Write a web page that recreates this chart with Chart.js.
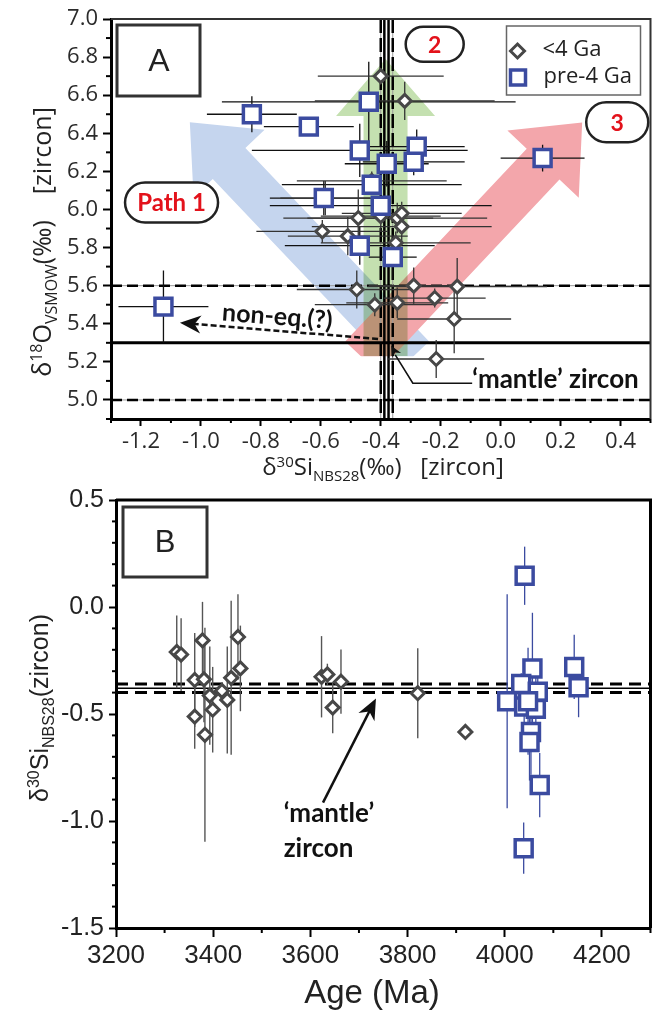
<!DOCTYPE html>
<html>
<head>
<meta charset="utf-8">
<script src="https://cdn.jsdelivr.net/npm/chart.js@4.4.1/dist/chart.umd.min.js"></script>
<style>
html, body { margin: 0; padding: 0; background: #fff; }
#wrap { position: relative; width: 666px; height: 1013px; overflow: hidden; }
canvas { position: absolute; left: 0; }
#chartA { top: 0; }
#chartB { top: 480px; }
</style>
</head>
<body>
<div id="wrap">
  <canvas id="chartA" width="666" height="490"></canvas>
  <canvas id="chartB" width="666" height="533"></canvas>
</div>
<script>
// ---- Panel A: d30Si vs d18O ----
// <4 Ga zircons (diamonds)
const youngSi    = [-0.40, -0.32, -0.43, -0.585, -0.475, -0.40, -0.345, -0.33, -0.33, -0.595, -0.51, -0.35, -0.48, -0.42, -0.345, -0.29, -0.22, -0.145, -0.155, -0.215];
const youngO     = [6.70, 6.57, 6.15, 6.06, 5.955, 5.965, 5.955, 5.98, 5.91, 5.885, 5.86, 5.825, 5.58, 5.50, 5.51, 5.60, 5.535, 5.595, 5.425, 5.215];
const youngSiErr = [0.21, 0.30, 0.25, 0.15, 0.25, 0.20, 0.30, 0.20, 0.30, 0.22, 0.20, 0.25, 0.20, 0.20, 0.17, 0.15, 0.17, 0.30, 0.19, 0.16];
const youngOErr  = [0.00, 0.10, 0.05, 0.09, 0.15, 0.08, 0.08, 0.06, 0.10, 0.06, 0.10, 0.06, 0.10, 0.06, 0.08, 0.095, 0.05, 0.15, 0.18, 0.10];

// pre-4 Ga zircons (squares)
const oldSi    = [-0.83, -0.64, -0.44, -0.47, -0.28, -0.29, -0.38, -0.43, -0.59, -0.40, -0.47, -0.36, 0.14, -1.125];
const oldO     = [6.50, 6.435, 6.565, 6.31, 6.33, 6.25, 6.24, 6.13, 6.06, 6.02, 5.81, 5.75, 6.27, 5.49];
const oldSiErr = [0.15, 0.15, 0.49, 0.36, 0.16, 0.17, 0.14, 0.30, 0.18, 0.37, 0.25, 0.08, 0.14, 0.15];
const oldOErr  = [0.095, 0.00, 0.21, 0.14, 0.09, 0.07, 0.12, 0.05, 0.09, 0.05, 0.10, 0.12, 0.07, 0.19];

// ---- Panel B: age vs d30Si ----
const youngAge    = [3325, 3334, 3378, 3362, 3381, 3362, 3383, 3393, 3399, 3418, 3429, 3437, 3451, 3456, 3623, 3635, 3663, 3646, 3821, 3919];
const youngSiB    = [-0.21, -0.222, -0.156, -0.341, -0.338, -0.512, -0.597, -0.414, -0.48, -0.392, -0.434, -0.331, -0.14, -0.287, -0.326, -0.315, -0.349, -0.47, -0.403, -0.584];
const youngSiBErr = [0.17, 0.17, 0.18, 0.22, 0.20, 0.15, 0.50, 0.23, 0.20, 0.02, 0.25, 0.36, 0.20, 0.20, 0.19, 0.05, 0.15, 0.12, 0.21, 0];

const oldAge    = [4041, 4057, 4143, 4152, 4034, 4005, 4068, 4040, 4064, 4054, 4051, 4072, 4039, 4048];
const oldSiB    = [0.146, -0.287, -0.28, -0.375, -0.36, -0.44, -0.396, -0.465, -0.476, -0.584, -0.631, -0.832, -1.127, -0.44];
const oldSiBErr = [0.136, 0.26, 0.15, 0.14, 0.05, 0.50, 0.12, 0.20, 0.20, 0.20, 0.18, 0.15, 0.12, 0.25];

// tick labels
const siTicksA = [-1.2, -1.0, -0.8, -0.6, -0.4, -0.2, 0.0, 0.2, 0.4];
const oTicksA  = [5.0, 5.2, 5.4, 5.6, 5.8, 6.0, 6.2, 6.4, 6.6, 6.8, 7.0];
const ageTicks = [3200, 3400, 3600, 3800, 4000, 4200];
const siTicksB = [-1.5, -1.0, -0.5, 0.0, 0.5];

// 'mantle' zircon reference values
const mantleSiSolid = [-0.388, -0.374];
const mantleSiDash  = [-0.40, -0.36];
const mantleO       = 5.3;
const mantleODash   = [5.0, 5.6];
const mantleSiB     = -0.38;
const mantleSiBDash = [-0.36, -0.40];

const blue = '#3b4ba0';
const grey = '#474747';

// helpers
function richText(ctx, parts, x, y, size, family, color, rot) {
  const small = Math.round(size * 0.62);
  let w = 0;
  const items = parts.map(([t, k]) => {
    ctx.font = (k ? small : size) + 'px ' + family;
    const tw = ctx.measureText(t).width;
    w += tw;
    return { t, k, tw };
  });
  ctx.save();
  ctx.translate(x, y);
  if (rot) ctx.rotate(rot);
  ctx.fillStyle = color;
  ctx.textBaseline = 'alphabetic';
  let cx = -w / 2;
  items.forEach(it => {
    ctx.font = (it.k ? small : size) + 'px ' + family;
    const dy = it.k === 'sup' ? -size * 0.36 : it.k === 'sub' ? size * 0.24 : 0;
    ctx.fillText(it.t, cx, dy + size * 0.35);
    cx += it.tw;
  });
  ctx.restore();
}

function bigArrow(ctx, x0, y0, x1, y1, shaft, headW, headL, color) {
  const len = Math.hypot(x1 - x0, y1 - y0);
  const ux = (x1 - x0) / len, uy = (y1 - y0) / len;
  const nx = -uy, ny = ux;
  const bx = x1 - ux * headL, by = y1 - uy * headL;
  ctx.beginPath();
  ctx.moveTo(x0 + nx * shaft / 2, y0 + ny * shaft / 2);
  ctx.lineTo(bx + nx * shaft / 2, by + ny * shaft / 2);
  ctx.lineTo(bx + nx * headW / 2, by + ny * headW / 2);
  ctx.lineTo(x1, y1);
  ctx.lineTo(bx - nx * headW / 2, by - ny * headW / 2);
  ctx.lineTo(bx - nx * shaft / 2, by - ny * shaft / 2);
  ctx.lineTo(x0 - nx * shaft / 2, y0 - ny * shaft / 2);
  ctx.closePath();
  ctx.fillStyle = color;
  ctx.fill();
}

function arrowHead(ctx, x, y, ang, len, half) {
  ctx.save();
  ctx.translate(x, y);
  ctx.rotate(ang);
  ctx.beginPath();
  ctx.moveTo(0, 0);
  ctx.lineTo(-len, -half);
  ctx.lineTo(-len * 0.7, 0);
  ctx.lineTo(-len, half);
  ctx.closePath();
  ctx.fill();
  ctx.restore();
}

function pill(ctx, cx, cy, w, h, text, size) {
  const r = h / 2;
  ctx.save();
  ctx.beginPath();
  ctx.moveTo(cx - w / 2 + r, cy - r);
  ctx.lineTo(cx + w / 2 - r, cy - r);
  ctx.arc(cx + w / 2 - r, cy, r, -Math.PI / 2, Math.PI / 2);
  ctx.lineTo(cx - w / 2 + r, cy + r);
  ctx.arc(cx - w / 2 + r, cy, r, Math.PI / 2, Math.PI * 1.5);
  ctx.closePath();
  ctx.fillStyle = '#fff';
  ctx.fill();
  ctx.lineWidth = 2.5;
  ctx.strokeStyle = '#222';
  ctx.stroke();
  ctx.fillStyle = '#e3121b';
  ctx.font = 'bold ' + size + 'px Lato';
  ctx.textAlign = 'center';
  ctx.textBaseline = 'middle';
  ctx.fillText(text, cx, cy + 1);
  ctx.restore();
}

function minorTicks(ctx, scale, step, len, majors) {
  const n0 = Math.round(scale.min / step), n1 = Math.round(scale.max / step);
  ctx.save();
  ctx.strokeStyle = '#000';
  ctx.lineWidth = 2;
  for (let k = n0; k <= n1; k++) {
    const v = k * step;
    if (majors.some(m => Math.abs(m - v) < step / 10)) continue;
    const p = scale.getPixelForValue(v);
    ctx.beginPath();
    if (scale.isHorizontal()) { ctx.moveTo(p, scale.top); ctx.lineTo(p, scale.top + len); }
    else { ctx.moveTo(scale.right, p); ctx.lineTo(scale.right - len, p); }
    ctx.stroke();
  }
  ctx.restore();
}

function drawErrorBars(chart) {
  const { ctx, scales: { x, y } } = chart;
  ctx.save();
  chart.data.datasets.forEach(ds => {
    ctx.strokeStyle = ds.errColor;
    ctx.lineWidth = ds.errWidth;
    ds.data.forEach(p => {
      const cx = x.getPixelForValue(p.x), cy = y.getPixelForValue(p.y);
      ctx.beginPath();
      if (p.xErr) { ctx.moveTo(x.getPixelForValue(p.x - p.xErr), cy); ctx.lineTo(x.getPixelForValue(p.x + p.xErr), cy); }
      if (p.yErr) { ctx.moveTo(cx, y.getPixelForValue(p.y - p.yErr)); ctx.lineTo(cx, y.getPixelForValue(p.y + p.yErr)); }
      ctx.stroke();
    });
  });
  ctx.restore();
}

function dashedLine(ctx, x0, y0, x1, y1, width, dash) {
  ctx.save();
  ctx.strokeStyle = '#9a9a9a';
  ctx.lineWidth = 1;
  ctx.beginPath(); ctx.moveTo(x0, y0); ctx.lineTo(x1, y1); ctx.stroke();
  ctx.strokeStyle = '#000';
  ctx.lineWidth = width;
  ctx.setLineDash(dash);
  ctx.beginPath(); ctx.moveTo(x0, y0); ctx.lineTo(x1, y1); ctx.stroke();
  ctx.restore();
}

const xTitleA = [['δ', ''], ['30', 'sup'], ['Si', ''], ['NBS28', 'sub'], ['(‰)', ''], ['   [zircon]', '']];
const yTitleA = [['δ', ''], ['18', 'sup'], ['O', ''], ['VSMOW', 'sub'], ['(‰)', ''], ['    [zircon]', '']];
const yTitleB = [['δ', ''], ['30', 'sup'], ['Si', ''], ['NBS28', 'sub'], ['(zircon)', '']];

// ---- panel A drawing ----
const panelA = {
  id: 'panelA',
  beforeDatasetsDraw(chart) {
    const { ctx, chartArea: a, scales: { x, y } } = chart;
    // path arrows
    ctx.save();
    ctx.beginPath();
    ctx.rect(a.left, a.top, a.right - a.left, y.getPixelForValue(5.23) - a.top);
    ctx.clip();
    bigArrow(ctx, x.getPixelForValue(-0.293), y.getPixelForValue(5.226), x.getPixelForValue(-1.037), y.getPixelForValue(6.458), 45, 98, 57, '#c5d5ee');
    bigArrow(ctx, x.getPixelForValue(-0.464), y.getPixelForValue(5.226), x.getPixelForValue(0.272), y.getPixelForValue(6.456), 45, 98, 57, '#f3a6ab');
    ctx.globalCompositeOperation = 'multiply';
    bigArrow(ctx, x.getPixelForValue(-0.384), y.getPixelForValue(5.23), x.getPixelForValue(-0.384), y.getPixelForValue(6.79), 44, 99, 57, '#c4e0b0');
    ctx.restore();

    // mantle reference lines
    mantleODash.forEach(v => {
      const p = y.getPixelForValue(v);
      dashedLine(ctx, a.left, p, a.right, p, 2.5, [11, 5]);
    });
    mantleSiDash.forEach(v => {
      const p = x.getPixelForValue(v);
      dashedLine(ctx, p, a.top, p, a.bottom, 2.5, [14, 5]);
    });
    ctx.save();
    ctx.strokeStyle = '#000';
    ctx.lineWidth = 2.5;
    mantleSiSolid.forEach(v => {
      const p = x.getPixelForValue(v);
      ctx.beginPath(); ctx.moveTo(p, a.top); ctx.lineTo(p, a.bottom); ctx.stroke();
    });
    ctx.lineWidth = 3;
    const pm = y.getPixelForValue(mantleO);
    ctx.beginPath(); ctx.moveTo(a.left, pm); ctx.lineTo(a.right, pm); ctx.stroke();
    ctx.restore();

    drawErrorBars(chart);
  },
  afterDatasetsDraw(chart) {
    const { ctx, chartArea: a, scales: { x, y } } = chart;
    ctx.save();
    // frame top / right
    ctx.strokeStyle = '#333';
    ctx.lineWidth = 2;
    ctx.beginPath();
    ctx.moveTo(a.left, a.top); ctx.lineTo(a.right, a.top); ctx.lineTo(a.right, a.bottom);
    ctx.stroke();

    // panel label
    ctx.lineWidth = 3;
    ctx.strokeStyle = '#333';
    ctx.strokeRect(a.left + 6, a.top + 6, 83, 71);
    ctx.fillStyle = '#222';
    ctx.font = '32px "Liberation Sans"';
    ctx.textAlign = 'center';
    ctx.textBaseline = 'middle';
    ctx.fillText('A', a.left + 48, a.top + 43);

    // legend
    const lx = a.right - 144, ly = a.top + 7;
    ctx.lineWidth = 1.5;
    ctx.strokeStyle = '#666';
    ctx.strokeRect(lx, ly, 134, 69);
    ctx.lineWidth = 3;
    ctx.strokeStyle = grey;
    ctx.fillStyle = '#fff';
    ctx.beginPath();
    ctx.moveTo(lx + 11, ly + 18); ctx.lineTo(lx + 18, ly + 25); ctx.lineTo(lx + 11, ly + 32); ctx.lineTo(lx + 4, ly + 25);
    ctx.closePath(); ctx.fill(); ctx.stroke();
    ctx.lineWidth = 3.5;
    ctx.strokeStyle = blue;
    ctx.strokeRect(lx + 4, ly + 44, 15, 15);
    ctx.fillStyle = '#222';
    ctx.font = '22px "Open Sans"';
    ctx.textAlign = 'left';
    ctx.fillText('<4 Ga', lx + 36, ly + 24);
    ctx.fillText('pre-4 Ga', lx + 37, ly + 51);

    // path labels
    pill(ctx, x.getPixelForValue(-1.098), y.getPixelForValue(6.037), 93, 40, 'Path 1', 24);
    pill(ctx, x.getPixelForValue(-0.220), y.getPixelForValue(6.868), 58, 35, '2', 23);
    pill(ctx, x.getPixelForValue(0.389), y.getPixelForValue(6.458), 62, 40, '3', 23);

    // non-equilibrium arrow
    const t0x = x.getPixelForValue(-0.409), t0y = y.getPixelForValue(5.32);
    const t1x = x.getPixelForValue(-1.07), t1y = y.getPixelForValue(5.405);
    const ang = Math.atan2(t1y - t0y, t1x - t0x);
    ctx.strokeStyle = '#111';
    ctx.lineWidth = 2.5;
    ctx.setLineDash([6, 3]);
    ctx.beginPath(); ctx.moveTo(t0x, t0y); ctx.lineTo(t1x - Math.cos(ang) * 14, t1y - Math.sin(ang) * 14); ctx.stroke();
    ctx.setLineDash([]);
    ctx.fillStyle = '#111';
    arrowHead(ctx, t1x, t1y, ang, 21, 9);
    ctx.save();
    ctx.translate(x.getPixelForValue(-0.745), y.getPixelForValue(5.437));
    ctx.rotate(0.075);
    ctx.font = 'bold 25px Lato';
    ctx.textAlign = 'center';
    ctx.textBaseline = 'middle';
    ctx.fillText('non-eq.(?)', 0, 0);
    ctx.restore();

    // 'mantle' zircon pointer
    const mx = x.getPixelForValue(-0.365), my = y.getPixelForValue(5.284);
    const ex = x.getPixelForValue(-0.293), ey = y.getPixelForValue(5.088);
    const sx = x.getPixelForValue(-0.095);
    ctx.lineWidth = 1.6;
    ctx.beginPath(); ctx.moveTo(sx, ey); ctx.lineTo(ex, ey); ctx.lineTo(mx + 4, my + 9); ctx.stroke();
    arrowHead(ctx, mx, my, Math.atan2(my - ey, mx - ex), 11, 5);
    ctx.font = 'bold 26px Lato';
    ctx.textAlign = 'left';
    ctx.textBaseline = 'middle';
    ctx.fillText('‘mantle’ zircon', sx, y.getPixelForValue(5.105));

    // minor ticks
    minorTicks(ctx, x, 0.1, 4, siTicksA);
    minorTicks(ctx, y, 0.1, 5, oTicksA);
    ctx.restore();
  },
  afterDraw(chart) {
    const ctx = chart.ctx;
    richText(ctx, xTitleA, 383, 467, 24, '"Open Sans"', '#222', 0);
    richText(ctx, yTitleA, 42, 242, 25, '"Open Sans"', '#222', -Math.PI / 2);
  }
};

// ---- panel B drawing ----
const panelB = {
  id: 'panelB',
  beforeDatasetsDraw(chart) {
    const { ctx, chartArea: a, scales: { y } } = chart;
    ctx.save();
    ctx.strokeStyle = '#000';
    ctx.lineWidth = 3;
    ctx.setLineDash([12, 7]);
    mantleSiBDash.forEach(v => {
      const p = y.getPixelForValue(v);
      ctx.beginPath(); ctx.moveTo(a.left, p); ctx.lineTo(a.right, p); ctx.stroke();
    });
    ctx.setLineDash([]);
    ctx.lineWidth = 1.5;
    const p = y.getPixelForValue(mantleSiB);
    ctx.beginPath(); ctx.moveTo(a.left, p); ctx.lineTo(a.right, p); ctx.stroke();
    ctx.restore();
    drawErrorBars(chart);
  },
  afterDatasetsDraw(chart) {
    const { ctx, chartArea: a, scales: { x, y } } = chart;
    ctx.save();
    ctx.strokeStyle = '#000';
    ctx.lineWidth = 3;
    ctx.beginPath();
    ctx.moveTo(a.left, a.top); ctx.lineTo(a.right, a.top); ctx.lineTo(a.right, a.bottom);
    ctx.stroke();

    ctx.strokeStyle = '#333';
    ctx.strokeRect(a.left + 7, a.top + 7, 84, 70);
    ctx.fillStyle = '#222';
    ctx.font = '31px "Liberation Sans"';
    ctx.textAlign = 'center';
    ctx.textBaseline = 'middle';
    ctx.fillText('B', a.left + 49, a.top + 43);

    // 'mantle' zircon arrow
    const x0 = x.getPixelForValue(3626), y0 = y.getPixelForValue(-0.914);
    const x1 = x.getPixelForValue(3735), y1 = y.getPixelForValue(-0.427);
    const ang = Math.atan2(y1 - y0, x1 - x0);
    ctx.strokeStyle = '#111';
    ctx.fillStyle = '#111';
    ctx.lineWidth = 2.5;
    ctx.beginPath(); ctx.moveTo(x0, y0); ctx.lineTo(x1 - Math.cos(ang) * 14, y1 - Math.sin(ang) * 14); ctx.stroke();
    arrowHead(ctx, x1, y1, ang, 21, 9);
    ctx.font = 'bold 26px Lato';
    ctx.textAlign = 'left';
    ctx.textBaseline = 'middle';
    ctx.fillText('‘mantle’', x.getPixelForValue(3545), y.getPixelForValue(-0.966));
    ctx.fillText('zircon', x.getPixelForValue(3545), y.getPixelForValue(-1.13));

    minorTicks(ctx, x, 100, 5, ageTicks);
    minorTicks(ctx, y, 0.1, 4, siTicksB);
    ctx.restore();
  },
  afterDraw(chart) {
    const ctx = chart.ctx;
    richText(ctx, yTitleB, 39, 228, 25, '"Liberation Sans"', '#222', -Math.PI / 2);
    ctx.save();
    ctx.fillStyle = '#222';
    ctx.font = '33px "Liberation Sans"';
    ctx.textAlign = 'center';
    ctx.textBaseline = 'middle';
    ctx.fillText('Age (Ma)', 372, 514);
    ctx.restore();
  }
};

function axisGrid(len) {
  return { display: true, drawOnChartArea: false, drawTicks: true, tickLength: len, tickWidth: 2, tickColor: '#000' };
}

const dsYoungA = youngSi.map((v, i) => ({ x: v, y: youngO[i], xErr: youngSiErr[i], yErr: youngOErr[i] }));
const dsOldA = oldSi.map((v, i) => ({ x: v, y: oldO[i], xErr: oldSiErr[i], yErr: oldOErr[i] }));
const dsYoungB = youngAge.map((v, i) => ({ x: v, y: youngSiB[i], yErr: youngSiBErr[i] }));
const dsOldB = oldAge.map((v, i) => ({ x: v, y: oldSiB[i], yErr: oldSiBErr[i] }));

function squareSet(label, data, errColor, errWidth) {
  return { label, data, pointStyle: 'rect', pointRadius: 12, pointBorderWidth: 3.5, pointBorderColor: blue, pointBackgroundColor: '#fff', errColor, errWidth };
}
function diamondSet(label, data, errColor, errWidth) {
  return { label, data, pointStyle: 'rectRot', pointRadius: 6.5, pointBorderWidth: 3, pointBorderColor: grey, pointBackgroundColor: '#fff', errColor, errWidth };
}

new Chart(document.getElementById('chartA'), {
  type: 'scatter',
  data: { datasets: [squareSet('pre-4 Ga', dsOldA, '#111', 1.3), diamondSet('<4 Ga', dsYoungA, '#333', 1.3)] },
  options: {
    responsive: false,
    animation: false,
    devicePixelRatio: 1,
    layout: { padding: { top: 19, right: 11, left: 0, bottom: 0 } },
    plugins: { legend: { display: false }, tooltip: { enabled: false } },
    scales: {
      x: {
        type: 'linear', min: -1.3, max: 0.5,
        afterBuildTicks: s => { s.ticks = siTicksA.map(v => ({ value: v })); },
        afterFit: s => { s.height = 71; },
        ticks: { callback: v => v.toFixed(1), font: { family: 'Open Sans', size: 22 }, color: '#2b2b2b', padding: 3, maxRotation: 0, autoSkip: false },
        grid: axisGrid(7),
        border: { display: true, width: 3, color: '#000' }
      },
      y: {
        type: 'linear', min: 4.9, max: 7.0,
        afterBuildTicks: s => { s.ticks = oTicksA.map(v => ({ value: v })); },
        afterFit: s => { s.width = 111; },
        ticks: { callback: v => v.toFixed(1), font: { family: 'Open Sans', size: 22 }, color: '#2b2b2b', padding: 5, autoSkip: false },
        grid: axisGrid(8),
        border: { display: true, width: 3, color: '#000' }
      }
    }
  },
  plugins: [panelA]
});

new Chart(document.getElementById('chartB'), {
  type: 'scatter',
  data: { datasets: [diamondSet('<4 Ga', dsYoungB, '#555', 1.4), squareSet('pre-4 Ga', dsOldB, blue, 1.3)] },
  options: {
    responsive: false,
    animation: false,
    devicePixelRatio: 1,
    layout: { padding: { top: 17, right: 11, left: 0, bottom: 0 } },
    plugins: { legend: { display: false }, tooltip: { enabled: false } },
    scales: {
      x: {
        type: 'linear', min: 3200, max: 4300,
        afterBuildTicks: s => { s.ticks = ageTicks.map(v => ({ value: v })); },
        afterFit: s => { s.height = 85; },
        ticks: { callback: v => String(v), font: { family: 'Liberation Sans', size: 26 }, color: '#222', padding: 3, maxRotation: 0, autoSkip: false },
        grid: axisGrid(9),
        border: { display: true, width: 3, color: '#000' }
      },
      y: {
        type: 'linear', min: -1.5, max: 0.5,
        afterBuildTicks: s => { s.ticks = siTicksB.map(v => ({ value: v })); },
        afterFit: s => { s.width = 116; },
        ticks: { callback: v => v.toFixed(1), font: { family: 'Liberation Sans', size: 25 }, color: '#222', padding: 5, autoSkip: false },
        grid: axisGrid(7),
        border: { display: true, width: 3, color: '#000' }
      }
    }
  },
  plugins: [panelB]
});
</script>
</body>
</html>
